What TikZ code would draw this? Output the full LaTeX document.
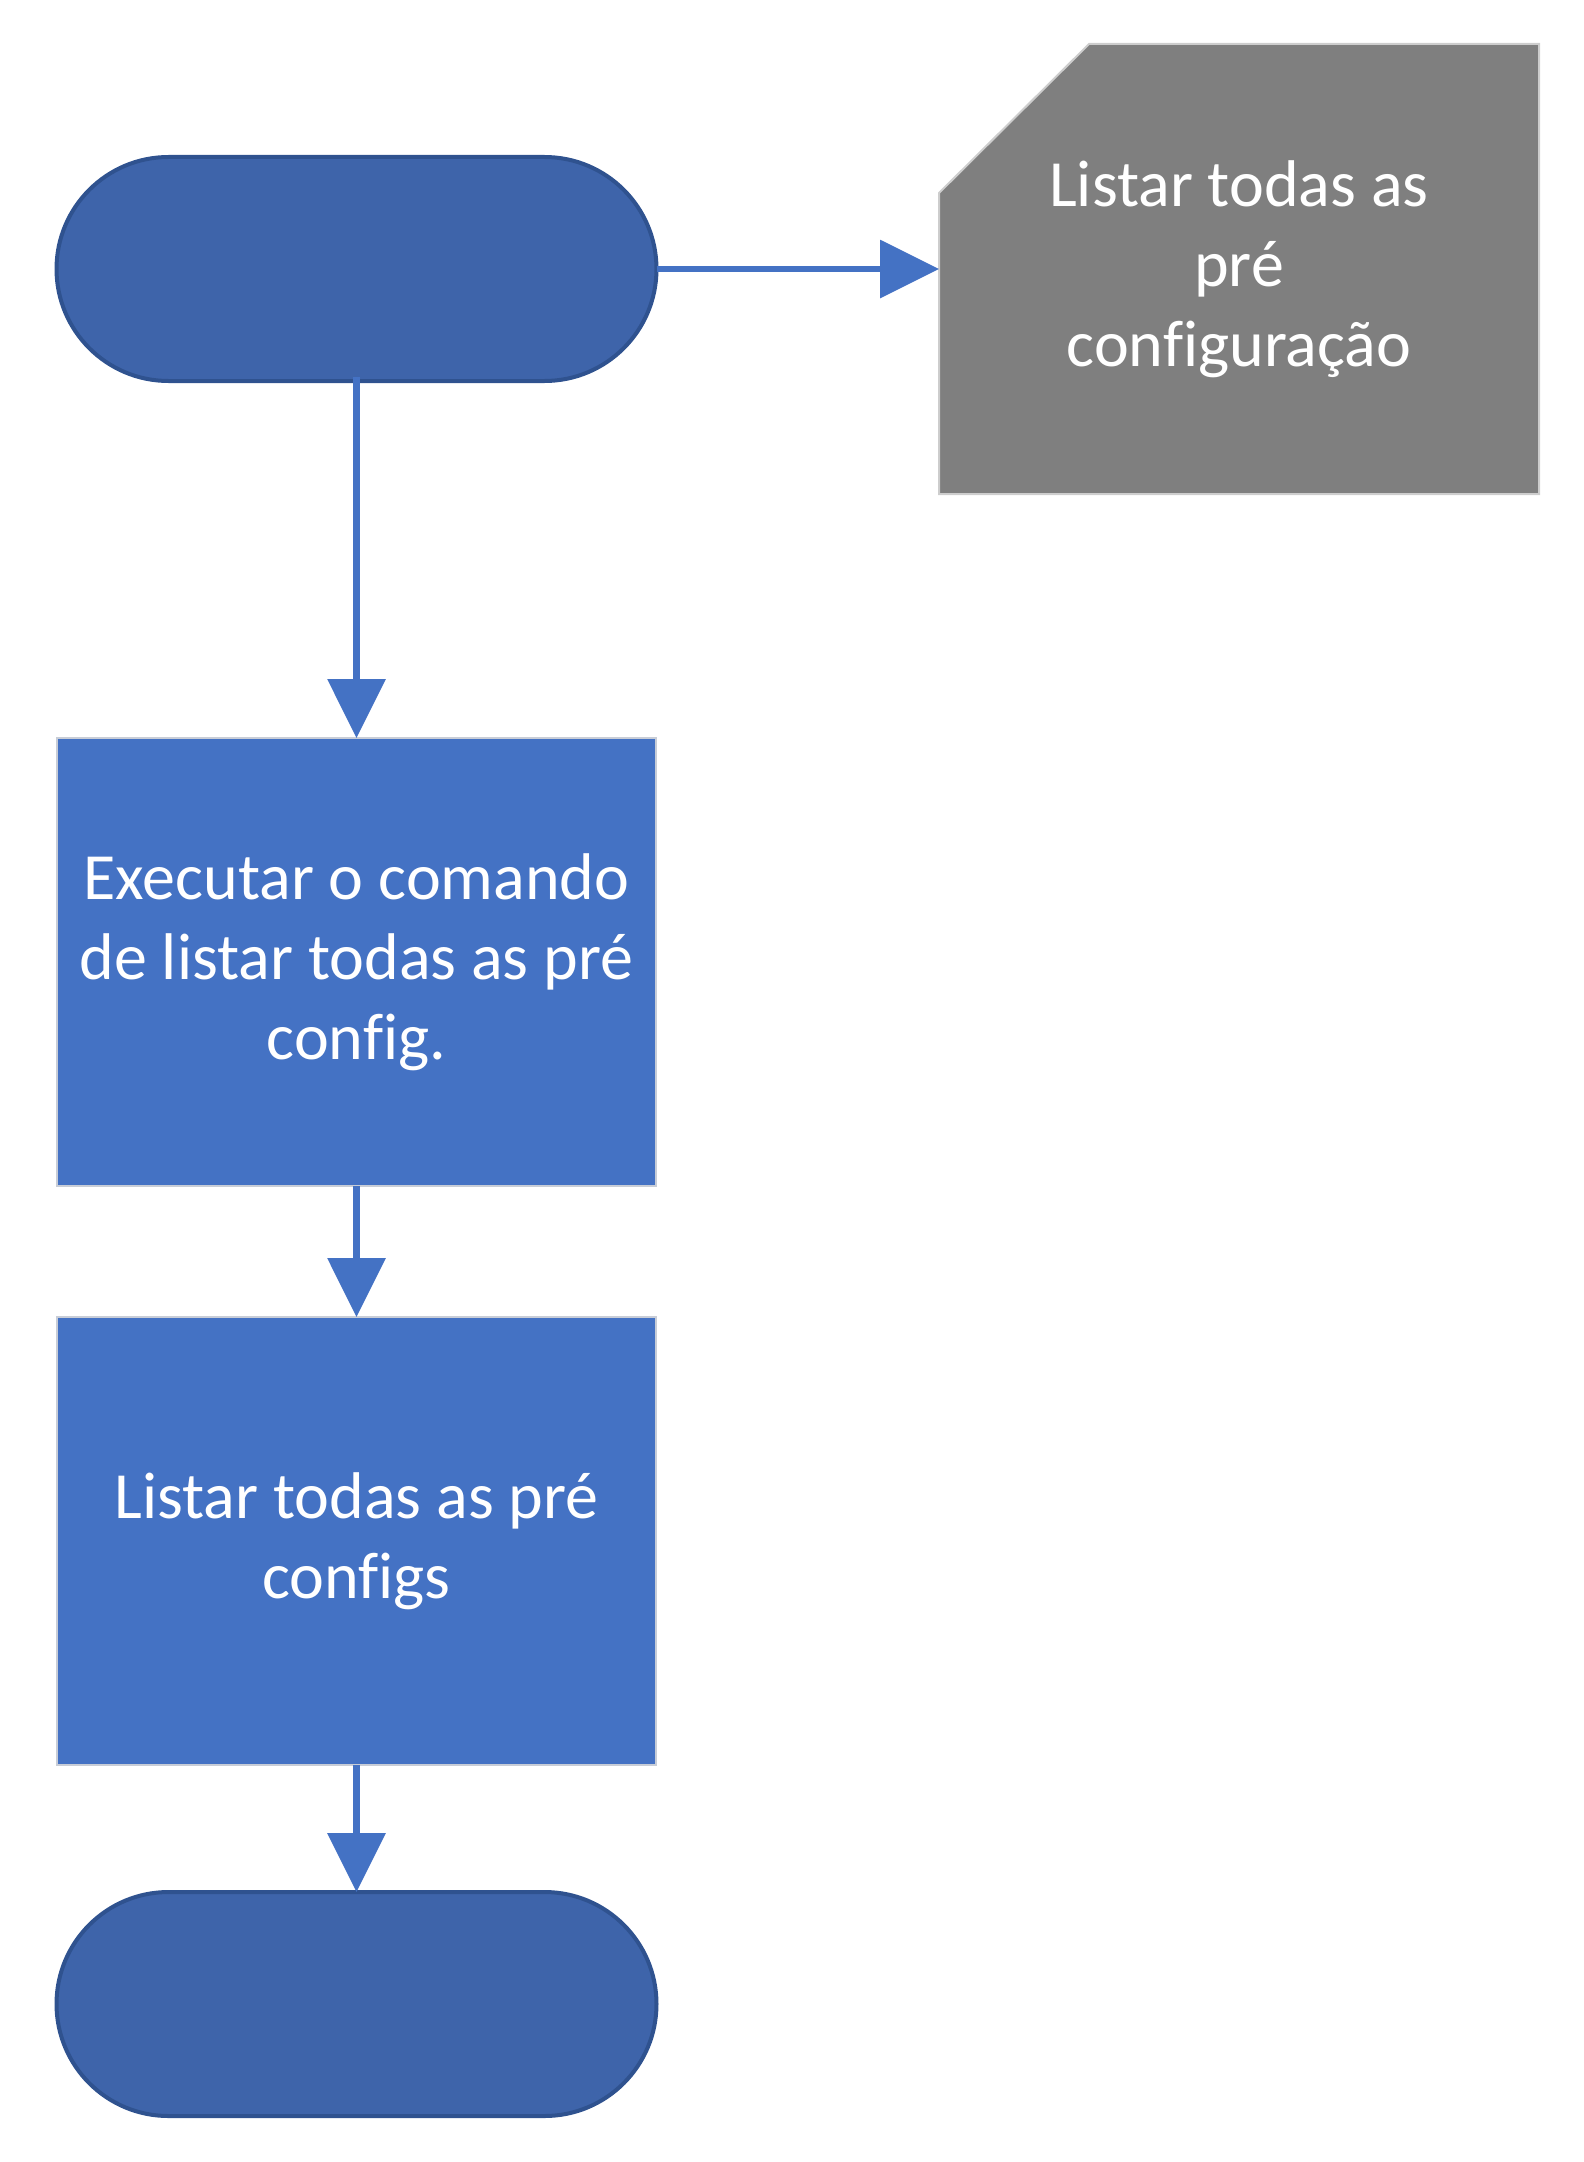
\documentclass[tikz,border=0pt]{standalone}
\usepackage{fontspec}
\setmainfont[Ligatures={NoCommon}]{Carlito}
\usetikzlibrary{arrows.meta}
\definecolor{termfill}{RGB}{62,100,170}
\definecolor{termline}{RGB}{47,82,143}
\definecolor{boxfill}{RGB}{68,114,196}
\definecolor{boxline}{RGB}{200,205,215}
\definecolor{cardfill}{RGB}{127,127,127}
\definecolor{cardline}{RGB}{205,205,205}
\definecolor{arrowcol}{RGB}{68,114,196}
\tikzset{
  terminal/.style={draw=termline, fill=termfill, line width=4pt, rounded corners=112pt,
    minimum width=600pt, minimum height=224pt, outer sep=0pt, inner sep=0pt},
  procbox/.style={draw=boxline, fill=boxfill, line width=2pt, minimum width=599pt,
    minimum height=448pt, outer sep=0pt, inner sep=0pt, text=white, align=center,
    font=\fontsize{66pt}{80pt}\selectfont},
  cardtext/.style={draw=none, minimum width=600pt, minimum height=450pt, outer sep=0pt,
    inner sep=0pt, text=white, align=center, font=\fontsize{66pt}{80pt}\selectfont},
  flow/.style={draw=arrowcol, line width=6.5pt, -{Triangle[length=59pt,width=57pt]}}
}
\begin{document}
\begin{tikzpicture}[x=1pt,y=-1pt]
\useasboundingbox (0,0) rectangle (1584,2162);
\node[terminal] (start) at (356.5,269) {};
\node[procbox] (exec) at (356.5,962) {Executar o comando\\de listar todas as pré\\config.};
\node[procbox] (list) at (356.5,1541) {Listar todas as pré\\configs};
\node[terminal] (stop) at (356.5,2004) {};
\node[cardtext] (card) at (1239,269) {};
\draw[fill=cardfill, draw=cardline, line width=2pt]
  ([yshift=-149pt]card.north west) -- ([xshift=150pt]card.north west) -- (card.north east)
  -- (card.south east) -- (card.south west) -- cycle;
\node[cardtext] at (card.center) {Listar todas as\\pré\\configuração};
\draw[flow] (start.east) -- (card.west);
\draw[flow] ([yshift=4pt]start.south) -- (exec.north);
\draw[flow] (exec.south) -- (list.north);
\draw[flow] (list.south) -- (stop.north);
\end{tikzpicture}
\end{document}
